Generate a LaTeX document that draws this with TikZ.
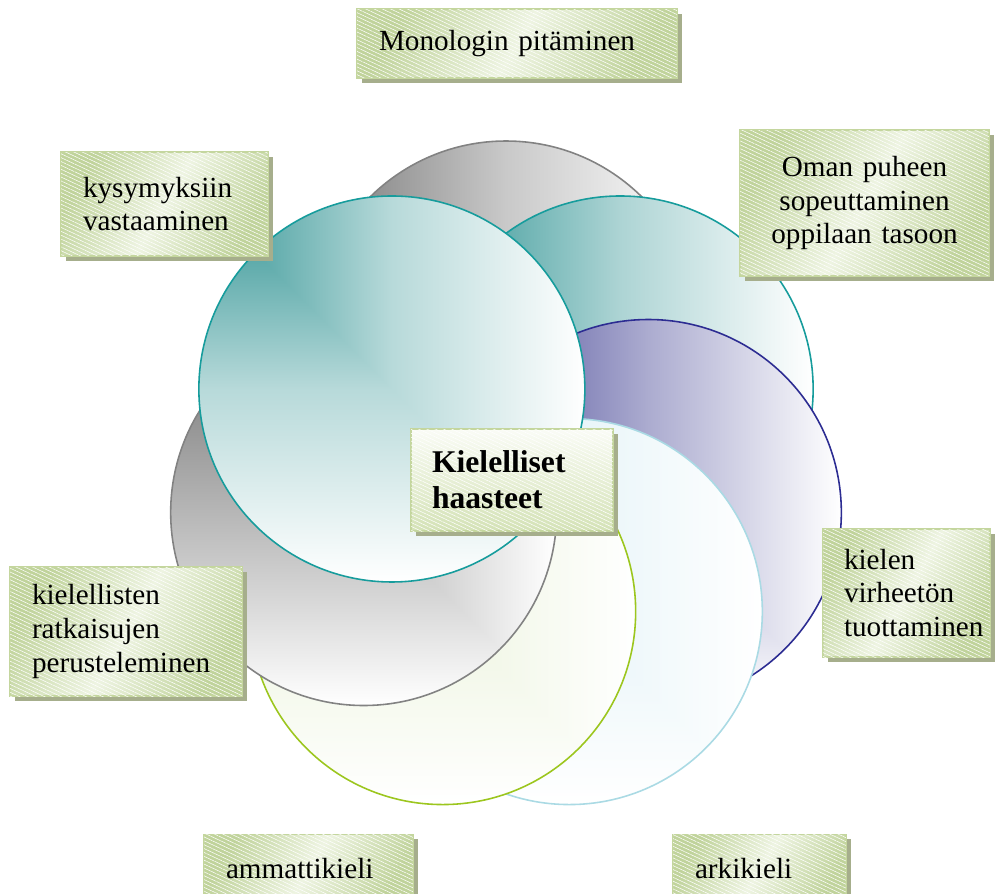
\documentclass[tikz,border=0pt]{standalone}
\usepackage{fontspec}
\setmainfont{Liberation Serif}
\usetikzlibrary{shadows, patterns.meta}
\hyphenpenalty=10000
\exhyphenpenalty=10000

\definecolor{boxdark}{RGB}{192,211,155}
\definecolor{boxlight}{RGB}{238,244,226}
\definecolor{boxedge}{RGB}{196,214,158}
\definecolor{boxshadow}{RGB}{166,174,140}
\definecolor{hubtop}{RGB}{250,252,246}
\definecolor{hubbottom}{RGB}{212,226,182}
\definecolor{tealline}{RGB}{22,156,156}
\definecolor{tealfill}{RGB}{50,148,148}
\definecolor{grayline}{RGB}{130,130,130}
\definecolor{graytop}{RGB}{120,120,120}
\definecolor{grayfill}{RGB}{110,110,110}
\definecolor{purpleline}{RGB}{44,44,146}
\definecolor{purplefill}{RGB}{70,70,150}
\definecolor{cyanline}{RGB}{170,218,228}
\definecolor{cyanfill}{RGB}{208,234,242}
\definecolor{greenline}{RGB}{156,198,30}
\definecolor{greenfill}{RGB}{222,235,196}

% gradient from the top left corner of a circle's box
\colorlet{ringfill}{tealfill}
\colorlet{ringmid}{tealfill!40!white}
\pgfdeclarefunctionalshading[ringfill,ringmid]{cornerfade}
  {\pgfpoint{0bp}{0bp}}{\pgfpoint{100bp}{100bp}}
  {\pgfshadecolortorgb{ringfill}{\ringA}\pgfshadecolortorgb{ringmid}{\ringB}}
  {75 exch sub exch 25 sub
   2 copy lt {exch} if pop
   50 div
   dup 0 lt {pop 0} if
   dup 1 gt {pop 1} if
   dup 0.5 lt
   {2 mul dup dup
    \ringBred\space \ringAred\space sub mul \ringAred\space add
    3 1 roll
    \ringBgreen\space \ringAgreen\space sub mul \ringAgreen\space add
    exch
    \ringBblue\space \ringAblue\space sub mul \ringAblue\space add}
   {0.5 sub 2 mul dup dup
    1 \ringBred\space sub mul \ringBred\space add
    3 1 roll
    1 \ringBgreen\space sub mul \ringBgreen\space add
    exch
    1 \ringBblue\space sub mul \ringBblue\space add}
   ifelse}

\tikzset{
  ring/.style={line width=0.9pt, shading=cornerfade},
  labelbox/.style={draw=boxedge, line width=1.1pt,
    left color=boxdark, right color=boxdark, middle color=boxlight, shading angle=60,
    drop shadow={shadow xshift=2.8pt, shadow yshift=-2.6pt, fill=boxshadow, opacity=1},
    postaction={pattern={Lines[angle=-25, distance=2pt, line width=0.3pt]},
      pattern color=white, fill opacity=0.45},
    font=\fontsize{16.6}{19.3}\selectfont, align=left, inner ysep=0pt},
  hubbox/.style={labelbox, top color=hubtop, bottom color=hubbottom, shading angle=0,
    postaction={}, font=\fontsize{18}{20.5}\selectfont\bfseries}
}

\begin{document}
\begin{tikzpicture}[x=0.02cm, y=-0.02cm]
  \useasboundingbox (0,0) rectangle (996,893);

  % Centre of the ring of circles
  \coordinate (hub) at (506,480);

  % Draw the circles, back to front
  \foreach \ang/\fc/\lc/\mix in {-90/graytop/grayline/40, -38.57/tealfill/tealline/40,
      12.86/purplefill/purpleline/45, 64.29/cyanfill/cyanline/50,
      115.71/greenfill/greenline/50, 167.14/grayfill/grayline/50,
      -141.43/tealfill/tealline/35}
  {
    \colorlet{ringfill}{\fc}
    \colorlet{ringmid}{\fc!\mix!white}
    \shade[ring, draw=\lc] (hub) ++(\ang:146) circle (193);
  }

  % Outer labels
  \node[labelbox, text width=5.52cm, inner xsep=0.44cm, minimum height=1.38cm]
    (mono) at (517,43.5) {Monologin pitäminen};
  \node[labelbox, text width=3.26cm, inner xsep=0.44cm, minimum height=2.08cm]
    (kysy) at (164.5,204) {kysymyksiin\\vastaaminen};
  \node[labelbox, align=center, text width=4.1cm, inner xsep=0.44cm, minimum height=2.92cm]
    (oman) at (864.5,203) {Oman puheen\\sopeuttaminen\\oppilaan tasoon};
  \node[labelbox, text width=2.5cm, inner xsep=0.42cm, minimum height=2.56cm]
    (kielen) at (906.5,593) {kielen\\virheetön\\tuottaminen};
  \node[labelbox, text width=3.76cm, inner xsep=0.44cm, minimum height=2.58cm]
    (perust) at (126,631.5) {kielellisten\\ratkaisujen\\perusteleminen};
  \node[labelbox, text width=3.3cm, inner xsep=0.44cm, minimum height=1.38cm]
    (ammatti) at (308.5,869) {ammattikieli};
  \node[labelbox, text width=2.58cm, inner xsep=0.44cm, minimum height=1.38cm]
    (arki) at (759.5,869) {arkikieli};

  % Centre label
  \node[hubbox, text width=3.2cm, inner xsep=0.42cm, minimum height=2.04cm]
    (haasteet) at (512,480) {Kielelliset\\haasteet};
\end{tikzpicture}
\end{document}
